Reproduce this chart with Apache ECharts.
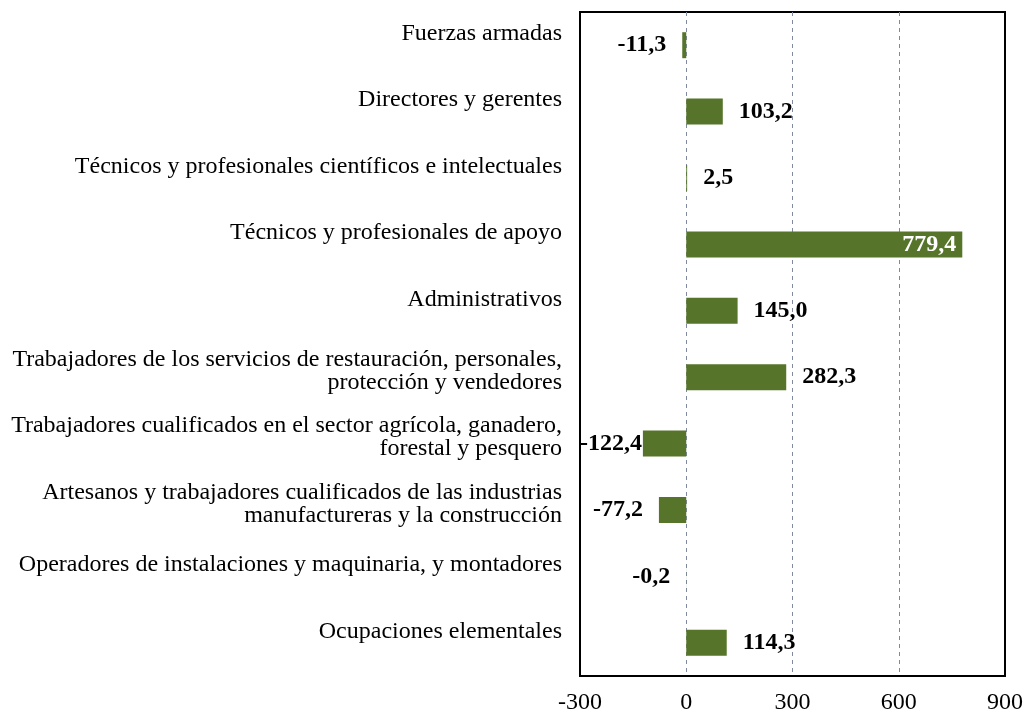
<!DOCTYPE html>
<html>
<head>
<meta charset="utf-8">
<script src="https://cdn.jsdelivr.net/npm/echarts@6/dist/echarts.min.js"></script>
<style>
  html, body { margin: 0; padding: 0; background: #fff; }
  #chart { width: 1025px; height: 715px; }
</style>
</head>
<body>
<div id="chart"></div>
<script>
// categorías, de arriba a abajo
var categorias = [
  'Fuerzas armadas',
  'Directores y gerentes',
  'Técnicos y profesionales científicos e intelectuales',
  'Técnicos y profesionales de apoyo',
  'Administrativos',
  'Trabajadores de los servicios de restauración, personales,\nprotección y vendedores',
  'Trabajadores cualificados en el sector agrícola, ganadero,\nforestal y pesquero',
  'Artesanos y trabajadores cualificados de las industrias\nmanufactureras y la construcción',
  'Operadores de instalaciones y maquinaria, y montadores',
  'Ocupaciones elementales'
];
var valores = [-11.3, 103.2, 2.5, 779.4, 145.0, 282.3, -122.4, -77.2, -0.2, 114.3];
var ticksX = [-300, 0, 300, 600, 900];

var verde = '#56752a';
var fuente = '"Liberation Serif", "Times New Roman", serif';

function fmt(v) {
  return v.toFixed(1).replace('.', ',');
}

// etiqueta de cada barra: fuera del extremo, salvo la más larga (dentro, en blanco)
var datos = valores.map(function (v) {
  var lab;
  if (v > 700) {
    lab = { position: 'insideRight', color: '#fff', distance: 6 };
  } else if (v < -100) {
    lab = { position: 'left', distance: 1 };
  } else if (v < 0) {
    lab = { position: 'left', distance: 16 };
  } else {
    lab = { position: 'right', distance: 16 };
  }
  return { value: v, label: lab };
});

var myChart = echarts.init(document.getElementById('chart'));
myChart.setOption({
  animation: false,
  grid: {
    left: 580,
    right: 20,
    top: 12,
    bottom: 39,
    show: true,
    borderColor: '#000',
    borderWidth: 2,
    containLabel: false,
    outerBoundsMode: 'none'
  },
  xAxis: {
    type: 'value',
    min: ticksX[0],
    max: ticksX[ticksX.length - 1],
    interval: 300,
    axisLine: { show: false },
    axisTick: { show: false },
    axisLabel: {
      color: '#000',
      fontFamily: fuente,
      fontSize: 24,
      margin: 15
    },
    splitLine: {
      show: true,
      showMinLine: false,
      showMaxLine: false,
      lineStyle: { color: '#7f8aa0', type: [4, 4], width: 1 }
    }
  },
  yAxis: {
    type: 'category',
    data: categorias,
    inverse: true,
    axisLine: { show: false },
    axisTick: { show: false },
    axisLabel: {
      color: '#000',
      fontFamily: fuente,
      fontSize: 24,
      lineHeight: 23,
      align: 'right',
      margin: 18,
      // línea vacía al final para subir el texto como en el original
      formatter: function (v) {
        return v.indexOf('\n') >= 0 ? v + '\n{b| }' : v + '\n{a| }';
      },
      rich: {
        a: { fontSize: 10, lineHeight: 23 },
        b: { fontSize: 10, lineHeight: 12 }
      }
    },
    splitLine: { show: false }
  },
  series: [{
    type: 'bar',
    data: datos,
    barWidth: 26,
    itemStyle: { color: verde },
    label: {
      show: true,
      color: '#000',
      fontFamily: fuente,
      fontSize: 24,
      fontWeight: 'bold',
      formatter: function (p) { return fmt(p.value); }
    }
  }]
});
</script>
</body>
</html>
